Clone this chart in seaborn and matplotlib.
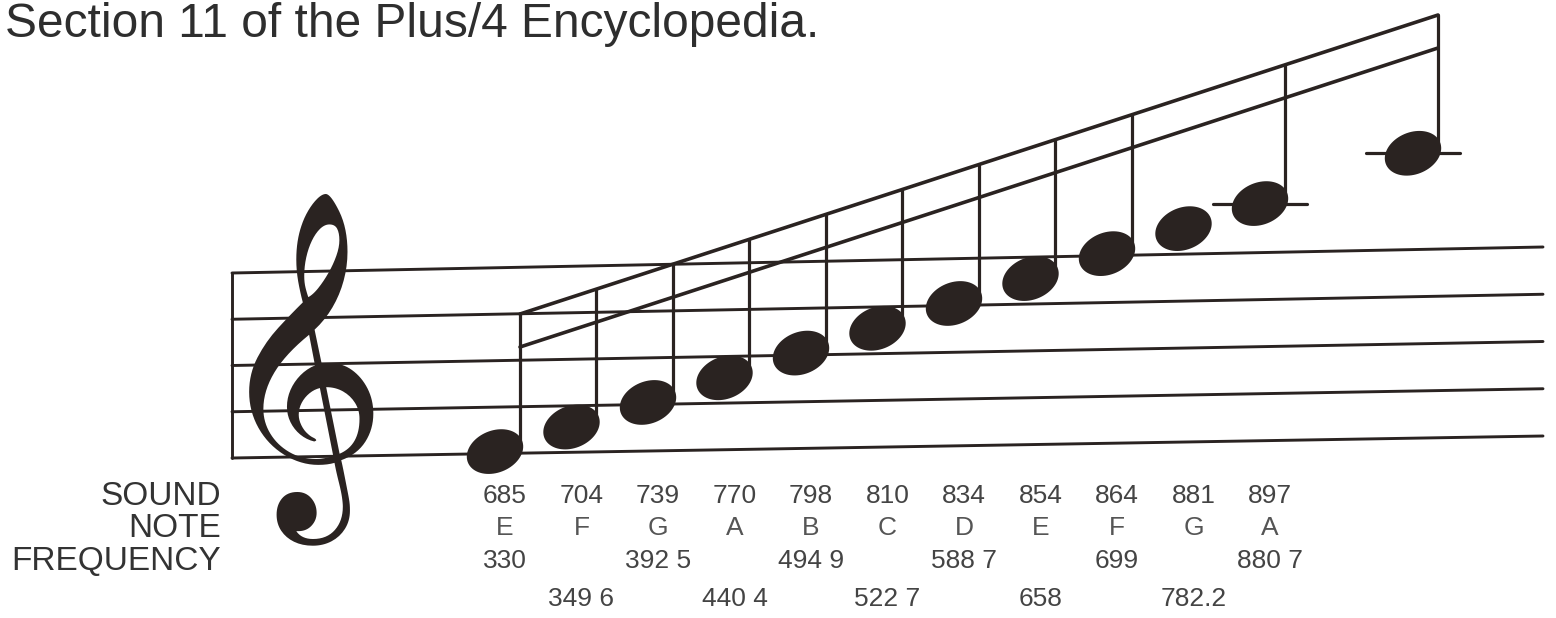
import numpy as np
import pandas as pd
import seaborn as sns
import matplotlib.pyplot as plt
from matplotlib.path import Path
from matplotlib.textpath import TextPath
from matplotlib.font_manager import FontProperties

# notes of the scale, sound values and frequencies as printed
note_names = ["E", "F", "G", "A", "B", "C", "D", "E", "F", "G", "A"]
sound_vals = [685, 704, 739, 770, 798, 810, 834, 854, 864, 881, 897]
freq_labels = ["330", "349 6", "392 5", "440 4", "494 9", "522 7",
               "588 7", "658", "699", "782.2", "880 7"]
beats = [0, 1, 2, 3, 4, 5, 6, 7, 8, 9, 10, 12]
steps = [0, 1, 2, 3, 4, 5, 6, 7, 8, 9, 10, 12]   # 0 = bottom line (E)
stemmed = [1, 1, 1, 1, 1, 1, 1, 1, 1, 0, 1, 1]

ink = "#2a2321"

sns.set_theme(style="white")
plt.rcParams["font.family"] = ["Liberation Sans", "DejaVu Sans"]

fig = plt.figure(figsize=(15.56, 6.18), dpi=100)
ax = fig.add_axes([0, 0, 1, 1])
ax.set_xlim(0, 1556)
ax.set_ylim(618, 0)
ax.axis("off")

# staff geometry (slightly tilted)
sx0, sx1 = 232, 1543
bot0, bot1 = 458, 436
top0, top1 = 273, 247


def staff_y(x, step):
    f = (np.asarray(x) - sx0) / (sx1 - sx0)
    bot = bot0 + (bot1 - bot0) * f
    top = top0 + (top1 - top0) * f
    return bot - step * (bot - top) / 8


nx = 495 + 76.5 * np.array(beats)
ny = staff_y(nx, np.array(steps)) - 2

# staff lines + bar line
rows = []
for i in range(5):
    for x in (sx0, sx1):
        rows.append(dict(x=x, y=float(staff_y(x, 2 * i)), seg=i))
rows += [dict(x=sx0, y=top0, seg=9), dict(x=sx0, y=bot0, seg=9)]
sns.lineplot(data=pd.DataFrame(rows), x="x", y="y", units="seg", estimator=None,
             sort=False, color=ink, lw=2.1, ax=ax, legend=False)

# beams
bx0, bx1 = nx[0] + 25, nx[-1] + 25
by0, by1 = 314, 15


def beam_y(x):
    return by0 + (by1 - by0) * (x - bx0) / (bx1 - bx0)


rows = []
for k, off in enumerate((0, 33)):
    rows += [dict(x=bx0, y=by0 + off, seg=k), dict(x=bx1, y=by1 + off, seg=k)]
sns.lineplot(data=pd.DataFrame(rows), x="x", y="y", units="seg", estimator=None,
             sort=False, color=ink, lw=2.6, ax=ax, legend=False)

# stems
rows = []
for i, (x, y, s) in enumerate(zip(nx, ny, stemmed)):
    if s:
        xs = x + 25
        rows += [dict(x=xs, y=y - 2, seg=i), dict(x=xs, y=beam_y(xs), seg=i)]
sns.lineplot(data=pd.DataFrame(rows), x="x", y="y", units="seg", estimator=None,
             sort=False, color=ink, lw=2.3, ax=ax, legend=False)

# ledger lines
rows = []
for i, (x, y, st) in enumerate(zip(nx, ny, steps)):
    if st >= 10:
        rows += [dict(x=x - 47, y=y, seg=i), dict(x=x + 47, y=y, seg=i)]
sns.lineplot(data=pd.DataFrame(rows), x="x", y="y", units="seg", estimator=None,
             sort=False, color=ink, lw=2.3, ax=ax, legend=False)

# note heads: tilted ellipse marker
t = np.linspace(0, 2 * np.pi, 80)
a = np.deg2rad(22)
ex, ey = np.cos(t), 0.72 * np.sin(t)
verts = np.column_stack([ex * np.cos(a) - ey * np.sin(a), ex * np.sin(a) + ey * np.cos(a)])
head = Path(verts, closed=True)
sns.scatterplot(x=nx, y=ny, marker=head, s=1650, color=ink, edgecolor="none",
                linewidth=0, ax=ax, legend=False, zorder=3)

# treble clef, sized so its ink spans about 352 px
clef = "\U0001D11E"
clef_fam = ["Noto Music", "FreeSerif", "DejaVu Sans"]
ext = TextPath((0, 0), clef, size=100, prop=FontProperties(family=clef_fam)).get_extents()
clef_pt = 352 / (ext.height / 100 * 100 / 72)
ax.text(311, 369, clef, fontsize=clef_pt, color=ink, ha="center", va="center",
        family=clef_fam)

# title
ax.text(5, 37, "Section 11 of the Plus/4 Encyclopedia.", fontsize=34.5,
        color="#2e2e2e", ha="left", va="baseline")

# row labels
for txt, yb in (("SOUND", 505), ("NOTE", 537), ("FREQUENCY", 570)):
    ax.text(221, yb, txt, fontsize=24, color="#333333", ha="right", va="baseline")

lx = nx[:11] + 10
for i in range(11):
    ax.text(lx[i], 503, str(sound_vals[i]), fontsize=19, color="#444444",
            ha="center", va="baseline")
    ax.text(lx[i], 535, note_names[i], fontsize=19, color="#555555",
            ha="center", va="baseline")
    ax.text(lx[i], 568 if i % 2 == 0 else 606, freq_labels[i], fontsize=19,
            color="#444444", ha="center", va="baseline")

fig.savefig("out.png", dpi=100, facecolor="white")
